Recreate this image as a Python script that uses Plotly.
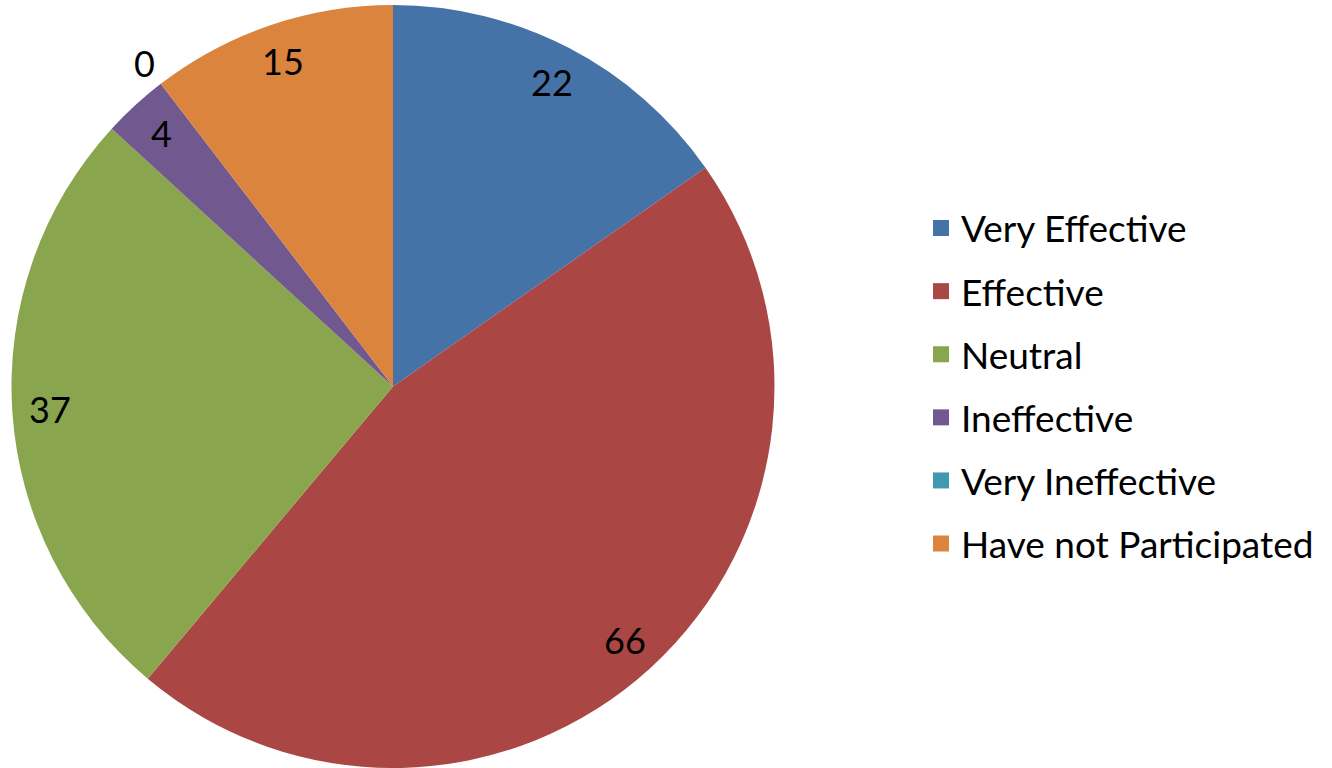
import math
import plotly.graph_objects as go

categories = ["Very Effective", "Effective", "Neutral", "Ineffective",
              "Very Ineffective", "Have not Participated"]
values = [22, 66, 37, 4, 0, 15]
colors = ["#4572A7", "#AA4643", "#89A54E", "#71588F", "#4198AF", "#DB843D"]

W, H = 1332, 768
MT = 5
cx, cy, R = 393.0, MT + (H - MT) / 2.0, (H - MT) / 2.0
FONT = "Lato"

fig = go.Figure()
fig.add_trace(go.Pie(
    labels=categories, values=values, sort=False, direction="clockwise",
    marker=dict(colors=colors, line=dict(width=0)),
    textinfo="none", hoverinfo="label+value", showlegend=False,
    domain=dict(x=[(cx - R) / W, (cx + R) / W], y=[0, 1]),
))

# legend entries (one per category so spacing can match the original)
for i, (c, col) in enumerate(zip(categories, colors)):
    fig.add_trace(go.Scatter(
        x=[None], y=[None], mode="markers", name=c, legendgroup=str(i),
        marker=dict(symbol="square", size=16, color=col), hoverinfo="skip",
    ))

# value labels placed along each slice's mid-angle
total = sum(values)
annotations = []
cum = 0
for v in values:
    mid = (cum + v / 2.0) / total * 2 * math.pi
    k = 0.9 if v > 0 else 1.07
    px = cx + R * k * math.sin(mid)
    py = cy - R * k * math.cos(mid)
    annotations.append(dict(
        x=px / W, y=1 - (py - MT) / (H - MT), xref="paper", yref="paper",
        text=str(v), showarrow=False, font=dict(family=FONT, size=36, color="#000000"),
        xanchor="center", yanchor="middle",
    ))
    cum += v

fig.update_layout(
    width=W, height=H,
    margin=dict(l=0, r=0, t=MT, b=0),
    paper_bgcolor="white", plot_bgcolor="white",
    xaxis=dict(visible=False), yaxis=dict(visible=False),
    annotations=annotations,
    legend=dict(x=921 / W, y=1 - (386 - MT) / (H - MT), xanchor="left", yanchor="middle",
                font=dict(family=FONT, size=37, color="#000000"),
                tracegroupgap=12, bgcolor="rgba(0,0,0,0)"),
    font=dict(family=FONT),
)

fig.write_html("out.html", config={"displayModeBar": False},
               post_script="document.body.style.margin='0';document.body.style.overflow='hidden';")
